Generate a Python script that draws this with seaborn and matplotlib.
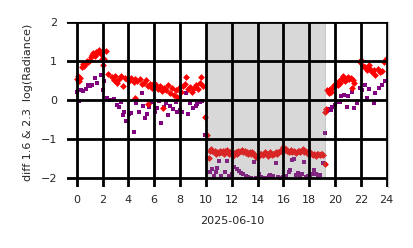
import matplotlib
matplotlib.use("Agg")
import matplotlib.pyplot as plt
import seaborn as sns

# ---- data (hours of day, value) ----
red_t = [0.05, 0.1, 0.15, 0.25, 0.4, 0.5, 0.6, 0.7, 0.8, 0.9, 1.0, 1.1, 1.2, 1.3, 1.4, 1.5,
         1.6, 1.75, 1.85, 1.95, 2.05, 2.15, 2.3, 2.45, 2.7, 2.85, 3.0, 3.15, 3.3, 3.45, 3.6,
         3.75, 3.9, 4.05, 4.2, 4.4, 4.5, 4.55, 4.7, 4.9, 5.05, 5.2, 5.35, 5.5, 5.55, 5.7, 5.85,
         6.0, 6.15, 6.3, 6.45, 6.6, 6.65, 6.75, 6.9, 7.05, 7.2, 7.35, 7.5, 7.65, 7.8, 7.95,
         8.1, 8.25, 8.4, 8.5, 8.65, 8.8, 8.95, 9.1, 9.25, 9.4, 9.55, 9.65, 9.8, 9.95, 10.05,
         10.25,
         10.3, 10.4, 10.5, 10.6, 10.7, 10.8, 10.9, 11.0, 11.1, 11.2, 11.3, 11.4, 11.5, 11.6,
         11.7, 11.8, 11.9, 12.0, 12.1, 12.2, 12.3, 12.4, 12.5, 12.6, 12.7, 12.8, 12.9, 13.0,
         13.1, 13.2, 13.3, 13.4, 13.5, 13.6, 13.7, 13.8, 13.9, 14.0, 14.1, 14.2, 14.3, 14.4,
         14.5, 14.6, 14.7, 14.8, 14.9, 15.0, 15.1, 15.2, 15.3, 15.4, 15.5, 15.6, 15.7, 15.8,
         15.9, 16.0, 16.1, 16.2, 16.3, 16.4, 16.5, 16.6, 16.7, 16.8, 16.9, 17.0, 17.1, 17.2,
         17.3, 17.4, 17.5, 17.6, 17.7, 17.8, 17.9, 18.0, 18.1, 18.2, 18.3, 18.4, 18.5, 18.6,
         18.7, 18.8, 18.9, 19.0, 19.1, 19.25,
         19.2, 19.3, 19.4, 19.5, 19.6, 19.7, 19.8, 19.9, 20.0, 20.1, 20.2, 20.3, 20.4, 20.5,
         20.6, 20.7, 20.8, 20.9, 21.0, 21.1, 21.2, 21.3, 21.4, 21.5, 21.9, 22.0, 22.15, 22.3,
         22.45, 22.6, 22.7, 22.85, 23.0, 23.1, 23.3, 23.45, 23.6, 23.8, 23.95]
red_v = [0.55, 0.62, 0.5, 0.58, 0.85, 0.92, 0.88, 0.95, 1.0, 0.97, 1.03, 1.1, 1.15, 1.2, 1.13, 1.25,
         1.2, 1.28, 1.18, 1.05, 0.9, 1.05, 1.27, 0.68, 0.6, 0.52, 0.62, 0.45, 0.55, 0.62, 0.35,
         0.58, 0.55, 0.48, 0.58, 0.47, 0.05, 0.55, 0.5, 0.55, 0.42, 0.45, 0.52, -0.1, 0.35, 0.42, 0.3,
         0.45, 0.38, 0.28, 0.35, 0.22, -0.2, 0.3, 0.25, 0.4, 0.18, 0.3, 0.12, 0.25, 0.08, 0.3,
         0.2, 0.35, 0.42, 0.6, 0.28, 0.33, 0.2, 0.3, 0.38, 0.28, 0.45, 0.6, 0.35, -0.43, -0.9,
         -1.5,
         -1.3, -1.25, -1.3, -1.35, -1.32, -1.38, -1.33, -1.36, -1.3, -1.35, -1.32, -1.38, -1.3, -1.28,
         -1.35, -1.4, -1.33, -1.4, -1.45, -1.37, -1.33, -1.38, -1.3, -1.35, -1.32, -1.28, -1.33, -1.3,
         -1.36, -1.33, -1.38, -1.35, -1.4, -1.35, -1.38, -1.45, -1.48, -1.43, -1.45, -1.4, -1.38, -1.42,
         -1.4, -1.35, -1.38, -1.43, -1.4, -1.35, -1.42, -1.38, -1.4, -1.35, -1.38, -1.33, -1.35, -1.3,
         -1.25, -1.22, -1.28, -1.25, -1.3, -1.35, -1.32, -1.28, -1.35, -1.3, -1.33, -1.37, -1.32, -1.3,
         -1.35, -1.3, -1.27, -1.33, -1.3, -1.35, -1.38, -1.32, -1.4, -1.38, -1.42, -1.38, -1.43, -1.4,
         -1.38, -1.42, -1.38, -1.4, -1.42, -1.65,
         -0.3, -0.22, 0.25, 0.18, 0.28, 0.2, 0.3, 0.38, 0.35, 0.45, 0.4, 0.5, 0.45, 0.55,
         0.62, 0.58, 0.5, 0.55, 0.6, 0.55, 0.58, 0.3, 0.52, 0.45, 0.97, 1.02, 0.88, 0.85,
         0.78, 0.9, 0.8, 0.72, 0.78, 0.65, 0.8, 0.72, 0.75, 0.97, 1.05]

purple_t = [0.05, 0.15, 0.3, 0.5, 0.7, 0.9, 1.05, 1.2, 1.4, 1.6, 1.85, 2.0, 2.15, 2.35, 2.55,
            2.9, 3.1, 3.25, 3.45, 3.55, 3.7, 3.85, 4.05, 4.2, 4.45, 4.6, 4.8, 5.05, 5.15, 5.3,
            5.45, 5.6, 5.8, 6.05, 6.2, 6.35, 6.55, 6.75, 6.95, 7.1, 7.25, 7.45, 7.65, 7.8, 8.0,
            8.15, 8.45, 8.6, 8.75, 9.0, 9.2, 9.35, 9.55, 9.7, 9.9,
            10.1, 10.3, 10.45, 10.6, 10.75, 10.9, 11.0, 11.2, 11.45, 11.65, 11.8, 12.0, 12.2,
            12.4, 12.55, 12.7, 12.9, 13.1, 13.3, 13.5, 13.7, 13.9, 14.1, 14.3, 14.6, 14.85,
            15.0, 15.2, 15.4, 15.6, 15.8, 16.0, 16.2, 16.4, 16.55, 16.65, 16.8, 16.95, 17.1,
            17.3, 17.45, 17.6, 17.75, 17.9, 18.05, 18.2, 18.4, 18.55, 18.7, 18.85, 19.1, 19.25,
            19.2, 19.35, 19.5, 19.65, 19.8, 20.0, 20.15, 20.35, 20.5, 20.7, 20.9, 21.0, 21.3,
            21.45, 21.7, 21.9, 22.1, 22.3, 22.5, 22.6, 23.0, 23.1, 23.4, 23.6, 23.9]
purple_v = [0.2, -0.02, 0.25, 0.22, 0.28, 0.38, 0.35, 0.4, 0.56, 0.44, 0.65, 0.25, 0.5, 0.05, 0.0,
            0.03, -0.12, -0.18, -0.05, -0.38, -0.32, -0.55, -0.35, -0.33, -0.83, -0.08, -0.3, 0.17, -0.15, -0.45,
            -0.35, -0.18, -0.05, -0.3, -0.2, -0.02, -0.6, -0.18, -0.08, -0.38, -0.15, -0.22, -0.05, -0.32, -0.25,
            -0.3, 0.17, -0.35, -0.08, -0.2, -0.15, -0.1, -0.05, -0.02, -0.9,
            -1.5, -1.85, -1.78, -1.95, -1.85, -1.75, -1.58, -1.95, -1.85, -1.58, -1.95, -1.9, -1.72,
            -1.78, -1.82, -1.88, -1.9, -1.95, -1.97, -2.0, -1.6, -2.0, -1.9, -1.98, -2.0, -1.95,
            -1.93, -1.95, -1.62, -1.97, -2.0, -1.98, -1.95, -1.85, -1.8, -1.55, -1.52, -1.92, -1.88,
            -1.95, -1.9, -1.6, -1.97, -1.95, -1.95, -1.9, -1.8, -1.9, -1.95, -1.93, -1.62, -1.65,
            -0.85, -0.28, -0.22, -0.25, -0.18, -0.13, -0.05, -0.05, 0.1, 0.12, -0.18, 0.1, 0.2,
            -0.2, -0.08, 0.3, 0.25, 0.38, 0.05, 0.28, -0.08, 0.18, 0.3, 0.38, 0.48]

night_start, night_end = 10.0, 19.23
x_ticks = [0, 2, 4, 6, 8, 10, 12, 14, 16, 18, 20, 22, 24]
y_ticks = [-2, -1, 0, 1, 2]
x_label = "2025-06-10"
y_label = "diff 1.6 & 2.3  log(Radiance)"

sns.set_theme(style="whitegrid")
plt.rcParams['font.family'] = ['DejaVu Sans']

fig = plt.figure(figsize=(4.14, 2.48), dpi=100)
ax = fig.add_axes([67 / 414, 1 - 187 / 248, (388 - 67) / 414, (187 - 22) / 248])

sns.scatterplot(x=purple_t, y=purple_v, ax=ax, marker="s", s=9, color="purple",
                linewidth=0, zorder=1)
sns.scatterplot(x=red_t, y=red_v, ax=ax, marker="D", s=12, color="red",
                linewidth=0, zorder=1.1)

ax.fill_between([night_start, night_end], -2, 2, color="grey", alpha=0.3, zorder=1.5,
                linewidth=0.8)

ax.set_xlim(-0.75, 24.1)
ax.set_ylim(-2.24, 2.01)
ax.set_xticks(x_ticks)
ax.set_yticks(y_ticks)
ax.set_axisbelow(False)
ax.grid(True, color="black", linewidth=2.0)
ax.tick_params(axis="both", labelsize=8, length=0, colors="0.15")
ax.tick_params(axis="y", pad=7)
ax.tick_params(axis="x", pad=5.5)

for side in ["left", "bottom"]:
    ax.spines[side].set_visible(False)
for side in ["right", "top"]:
    ax.spines[side].set_color("0.8")
    ax.spines[side].set_linewidth(1.0)

ax.set_xlabel(x_label, fontsize=8, color="0.15")
ax.set_ylabel(y_label, fontsize=8, color="0.15")
ax.xaxis.set_label_coords(0.515, -0.176)
ax.yaxis.set_label_coords(-0.106, 0.51)

fig.savefig("out.png", dpi=100)
